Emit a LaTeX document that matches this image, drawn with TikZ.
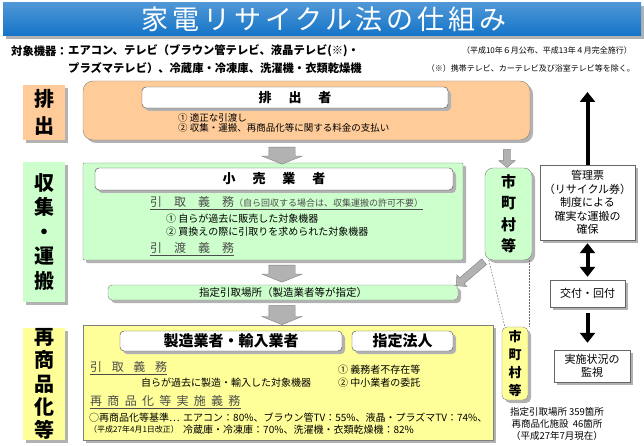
\documentclass[tikz,border=0pt]{standalone}
\usepackage{fontspec}
\setmainfont{Noto Sans CJK JP}
\newfontfamily\titlefont[LetterSpace=14]{Noto Sans CJK JP}
\usetikzlibrary{shapes.arrows,shadows,arrows.meta,calc}
\definecolor{barblue}{HTML}{1474C8}
\definecolor{peach}{HTML}{FFCC99}
\definecolor{mint}{HTML}{CCFFCC}
\definecolor{lemon}{HTML}{FFFF99}
\newcommand\fsz[2]{\fontsize{#1}{#2}\selectfont}

\begin{document}
\begin{tikzpicture}[x=1pt, y=-1pt, inner sep=0pt,
        boxshadow/.style={drop shadow={shadow xshift=3pt, shadow yshift=-3pt, fill=black!30, opacity=1}},
        stage/.style={fill=#1, boxshadow, minimum width=42pt, align=center},
        area/.style={draw=black!50, fill=#1, boxshadow},
        actor/.style={draw=black!75, fill=white, rounded corners=4pt, boxshadow},
        duty/.style={anchor=west, text=black!70, font=\fsz{12}{12}},
        item/.style={anchor=west, align=left, font=\fsz{10}{12.5}},
        grayarrow/.style={single arrow, draw=black!50, fill=black!30, inner xsep=0pt, inner ysep=13pt, minimum height=17pt, single arrow head extend=7pt, single arrow tip angle=136},
        infobox/.style={draw=black!60, fill=white, boxshadow, align=center, font=\fsz{11}{13.5}},
        town/.style={draw=black!50, fill=#1, boxshadow, align=center, font=\bfseries},
        blackarrow/.style={line width=4pt, -{Triangle[length=10pt, width=15pt]}},
        dashline/.style={black!60, line width=0.5pt, dash pattern=on 1.5pt off 1.5pt}]
    \useasboundingbox (0,0) rectangle (644,446);

    \node[top color=barblue!75!white, bottom color=barblue, boxshadow, minimum width=638pt, minimum height=33pt] (title) at (322,19.5) {};
    \node[text=white, font=\titlefont\fsz{27}{27}] (titletext) at (324,19) {家電リサイクル法の仕組み};

    \node[anchor=west, font=\bfseries\fsz{11.3}{11.3}] (taisho) at (11,51) {対象機器：};
    \node[anchor=west, font=\bfseries\fsz{11.3}{11.3}] (kikiA) at (68,51) {エアコン、テレビ（ブラウン管テレビ、液晶テレビ(※)・};
    \node[anchor=west, font=\bfseries\fsz{11.3}{11.3}] (kikiB) at (68,68) {プラズマテレビ）、冷蔵庫・冷凍庫、洗濯機・衣類乾燥機};
    \node[anchor=east, font=\fsz{8}{8}] (kofu) at (632,50) {（平成10年６月公布、平成13年４月完全施行）};
    \node[anchor=east, font=\fsz{8}{8}] (jogai) at (635,68) {（※）携帯テレビ、カーテレビ及び浴室テレビ等を除く。};

    \node[stage=peach, minimum height=55pt, font=\bfseries\fsz{20}{27}] (haishutsuL) at (44,112.5) {排\\出};
    \node[stage=mint, minimum height=140pt, font=\bfseries\fsz{20}{24.5}] (shushuL) at (44,232) {収\\集\\・\\運\\搬};
    \node[stage=lemon, minimum height=112pt, font=\bfseries\fsz{20}{23.3}] (saishoL) at (44,384) {再\\商\\品\\化\\等};

    \node[area=peach, rounded corners=10pt, minimum width=447pt, minimum height=59pt] (haishutsu) at (306.5,110.5) {};
    \node[actor, minimum width=306pt, minimum height=21pt, font=\bfseries\fsz{13}{13}] (haishutsusha) at (295,97.5) {排\hspace{1.3em}出\hspace{1.3em}者};
    \node[item, font=\fsz{9.5}{10.5}] (shiharai) at (178,123) {① 適正な引渡し\\② 収集・運搬、再商品化等に関する料金の支払い};

    \node[area=mint, rounded corners=1pt, minimum width=380pt, minimum height=97pt] (kouri) at (273,211.5) {};
    \node[actor, minimum width=358pt, minimum height=22pt, font=\bfseries\fsz{13}{13}] (kourisha) at (274,179) {小\hspace{1.3em}売\hspace{1.3em}業\hspace{1.3em}者};
    \node[duty] (hikitoriA) at (150,202) {引\quad 取\quad 義\quad 務{\fsz{9}{9}（自ら回収する場合は、収集運搬の許可不要）}};
    \node[item] (kouriitem) at (166,225) {① 自らが過去に販売した対象機器\\② 買換えの際に引取りを求められた対象機器};
    \node[duty] (hikiwatashi) at (150,248) {引\quad 渡\quad 義\quad 務};

    \node[area=mint, rounded corners=4pt, minimum width=350pt, minimum height=15pt, font=\fsz{10.5}{10.5}] (basho) at (283,292.5) {指定引取場所（製造業者等が指定）};

    \node[area=lemon, minimum width=410pt, minimum height=115pt] (saisho) at (288,382.5) {};
    \node[actor, minimum width=222pt, minimum height=20pt, font=\bfseries\fsz{15}{15}] (seizo) at (231,341) {製造業者・輸入業者};
    \node[actor, minimum width=101pt, minimum height=20pt, font=\bfseries\fsz{15}{15}] (houjin) at (402.5,341) {指定法人};
    \node[duty] (hikitoriB) at (90,367) {引\hspace{0.8em}取\hspace{0.8em}義\hspace{0.8em}務};
    \node[font=\fsz{10}{10}] (seizoitem) at (226,383) {自らが過去に製造・輸入した対象機器};
    \node[item, font=\fsz{10}{13}] (houjinitem) at (338,376.5) {① 義務者不存在等\\② 中小業者の委託};
    \node[duty] (jisshi) at (90,401) {再\hspace{0.44em}商\hspace{0.44em}品\hspace{0.44em}化\hspace{0.44em}等\hspace{0.44em}実\hspace{0.44em}施\hspace{0.44em}義\hspace{0.44em}務};
    \node[anchor=west, font=\fsz{10}{10}] (kijunA) at (89,418) {○再商品化等基準…};
    \node[anchor=west, font=\fsz{8}{8}] (kijunB) at (89,429) {（平成27年4月1日改正）};
    \node[item, font=\fsz{10}{12}] (ritsu) at (183,424) {エアコン：80\%、ブラウン管TV：55\%、液晶・プラズマTV：74\%、\\冷蔵庫・冷凍庫：70\%、洗濯機・衣類乾燥機：82\%};

    \node[town=mint, rounded corners=8pt, minimum width=47pt, minimum height=92pt, font=\bfseries\fsz{15}{21.5}] (townA) at (508.5,214) {市\\町\\村\\等};
    \node[town=lemon, rounded corners=5pt, minimum width=26pt, minimum height=73pt, font=\bfseries\fsz{13}{18}] (townB) at (515,363.5) {市\\町\\村\\等};
    \node[align=center, font=\fsz{9.5}{12}] (kasho) at (557,424) {指定引取場所 359箇所\\再商品化施設\ \ 46箇所\\（平成27年7月現在）};

    \node[infobox, minimum width=95pt, minimum height=75pt] (kanri) at (587.5,202.5) {管理票\\（リサイクル券）\\制度による\\確実な運搬の\\確保};
    \node[infobox, minimum width=75pt, minimum height=27pt] (koufu) at (587.5,293.5) {交付・回付};
    \node[infobox, minimum width=76pt, minimum height=32pt] (kanshi) at (592,366) {実施状況の\\監視};
    \coordinate (kanritop) at (587.5,92);

    \node[grayarrow, rotate=-90] (arA) at (282,153) {};
    \node[grayarrow, rotate=-90] (arB) at (282,271) {};
    \node[grayarrow, rotate=-90, minimum height=19pt] (arC) at (282,312.5) {};
    \node[grayarrow, rotate=-90, inner ysep=3.5pt, minimum height=18pt, single arrow head extend=4.5pt, single arrow tip angle=100] (arD) at (507,157) {};
    \node[grayarrow, rotate=220.6, inner ysep=3.5pt, minimum height=37pt, single arrow head extend=4pt, single arrow tip angle=90] (arE) at ($(townA.south west)!0.5!(basho.north east)$) {};

    \draw[black!70, line width=0.6pt] ([yshift=-1.5pt]hikitoriA.south west) -- ([yshift=-1.5pt]hikitoriA.south east);
    \draw[black!70, line width=0.6pt] ([yshift=-1.5pt]hikiwatashi.south west) -- ([yshift=-1.5pt]hikiwatashi.south east);
    \draw[black!70, line width=0.6pt] ([yshift=-1.5pt]hikitoriB.south west) -- ([yshift=-1.5pt]hikitoriB.south east);
    \draw[black!70, line width=0.6pt] ([yshift=-1.5pt]jisshi.south west) -- ([yshift=-1.5pt]jisshi.south east);

    \draw[dashline] ([xshift=4pt]townA.south west) -- ([xshift=3pt]townB.north west);
    \draw[dashline] ([xshift=-3pt]townA.south east) -- ([xshift=1pt]townB.north east);

    \draw[blackarrow] (kanri.north) -- (kanritop);
    \draw[blackarrow, {Triangle[length=10pt, width=15pt]}-{Triangle[length=10pt, width=15pt]}, shorten <=3pt, shorten >=3pt] (kanri.south) -- (koufu.north);
    \draw[blackarrow, shorten <=6pt, shorten >=7pt] (koufu.south) -- (koufu.south |- kanshi.north);
\end{tikzpicture}
\end{document}
